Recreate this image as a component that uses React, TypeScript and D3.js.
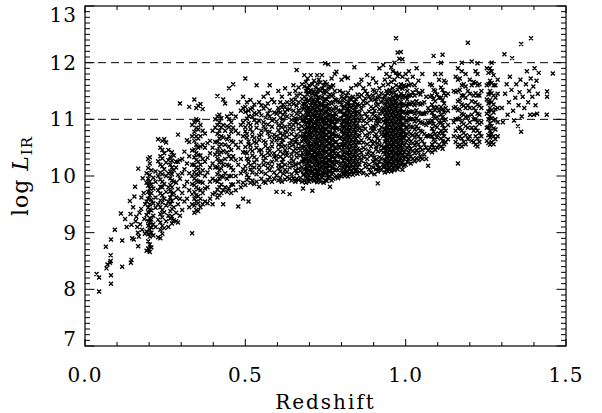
import * as d3 from 'd3';

// axis ranges and reference levels
const xDomain: [number, number] = [0, 1.5];
const yDomain: [number, number] = [7, 13];
const xMajorTicks = [0, 0.5, 1.0, 1.5];
const xTickLabels = ['0.0', '0.5', '1.0', '1.5'];
const yMajorTicks = [7, 8, 9, 10, 11, 12, 13];
const dashedLevels = [11, 12];

// sparse sources, [redshift, log L_IR]
const lowZPoints: [number, number][] = [
  [0.036, 8.27], [0.044, 8.21], [0.044, 7.96], [0.065, 8.75], [0.067, 8.37], [0.07, 8.44],
  [0.078, 8.47], [0.08, 8.6], [0.081, 8.25], [0.081, 8.1], [0.081, 8.88], [0.08, 8.5],
  [0.093, 9.05], [0.116, 8.4], [0.116, 8.86], [0.112, 9.34], [0.14, 9.56], [0.142, 9.33],
  [0.143, 8.47], [0.145, 8.52], [0.145, 9.14], [0.147, 8.9], [0.152, 8.88], [0.154, 9.64],
  [0.156, 9.81], [0.158, 9.2], [0.16, 9.28], [0.163, 9.1], [0.165, 9.0], [0.166, 8.76],
  [0.166, 10.13], [0.168, 8.93], [0.17, 9.35], [0.172, 9.15], [0.175, 9.42], [0.18, 9.96],
  [0.178, 9.05], [0.183, 9.7], [0.185, 9.24], [0.187, 8.98], [0.15, 9.45], [0.13, 9.1],
  [0.125, 9.24], [0.188, 9.5], [0.176, 9.62],
];

const highZPoints: [number, number][] = [
  [1.3, 11.2], [1.303, 10.95], [1.308, 12.15], [1.31, 11.45], [1.315, 11.62], [1.318, 11.08],
  [1.322, 11.3], [1.325, 11.75], [1.33, 11.52], [1.332, 12.08], [1.335, 11.15], [1.338, 10.98],
  [1.342, 11.38], [1.345, 11.62], [1.35, 10.88], [1.352, 11.25], [1.355, 11.48], [1.358, 11.7],
  [1.36, 10.78], [1.362, 11.05], [1.36, 12.33], [1.365, 11.4], [1.37, 11.2], [1.375, 11.62],
  [1.378, 11.85], [1.382, 11.3], [1.385, 11.5], [1.388, 11.08], [1.39, 11.72], [1.391, 12.43],
  [1.395, 11.4], [1.398, 11.58], [1.4, 11.08], [1.402, 11.9], [1.405, 11.25], [1.408, 11.68],
  [1.41, 11.1], [1.412, 11.45], [1.415, 11.82], [1.441, 11.49], [1.441, 11.4], [1.44, 11.08],
  [1.459, 11.81],
];

// redshift spikes, [redshift, log L_IR values]
const columnsA: [number, number[]][] = [
  [0.192, [8.68, 9.02, 9.31, 9.55, 9.88, 10.05]],
  [0.197, [8.72, 8.85, 8.97, 9.12, 9.2, 9.36, 9.44, 9.6, 9.72, 9.83, 9.95, 10.14, 10.3]],
  [0.202, [8.66, 8.79, 8.93, 9.05, 9.18, 9.26, 9.41, 9.5, 9.66, 9.78, 9.9, 10.02, 10.22, 10.33]],
  [0.207, [8.74, 9.0, 9.09, 9.23, 9.39, 9.58, 9.7, 9.85, 10.1]],
  [0.213, [8.95, 9.15, 9.3, 9.52, 9.78, 9.97]],
  [0.22, [9.1, 9.44, 9.62, 9.9, 10.08]],
  [0.228, [8.92, 9.23, 9.5, 9.75, 10.0, 10.26, 10.65]],
  [0.235, [8.9, 9.05, 9.18, 9.33, 9.45, 9.57, 9.69, 9.81, 9.94, 10.06, 10.2, 10.35, 10.5]],
  [0.241, [8.98, 9.12, 9.27, 9.4, 9.53, 9.66, 9.8, 9.9, 10.03, 10.17, 10.31, 10.46, 10.62]],
  [0.247, [9.08, 9.36, 9.6, 9.86, 10.12, 10.4, 10.65]],
  [0.253, [9.2, 9.48, 9.72, 10.0, 10.24, 10.59]],
  [0.26, [9.1, 9.3, 9.55, 9.8, 10.05, 10.28, 10.46]],
  [0.266, [9.25, 9.38, 9.5, 9.62, 9.73, 9.84, 9.96, 10.08, 10.2, 10.34]],
  [0.271, [9.16, 9.29, 9.42, 9.56, 9.68, 9.8, 9.92, 10.03, 10.15, 10.27, 10.42]],
  [0.277, [9.22, 9.45, 9.7, 9.9, 10.1, 10.36]],
  [0.284, [9.2, 9.35, 9.62, 9.88, 10.15, 10.25]],
  [0.29, [9.18, 9.5, 9.77, 10.02, 10.25, 10.73]],
  [0.296, [9.3, 9.6, 9.95, 10.28, 11.28]],
  [0.303, [9.4, 9.7, 10.05, 10.3]],
  [0.31, [9.55, 9.82, 10.12, 10.43]],
  [0.318, [9.6, 9.9, 10.22, 10.63]],
  [0.325, [9.45, 9.75, 10.05, 10.35, 10.6, 11.22]],
  [0.334, [8.99, 9.5, 9.68, 9.86, 10.0, 10.2, 10.45, 10.7, 10.9]],
  [0.341, [9.35, 9.48, 9.6, 9.72, 9.84, 9.95, 10.07, 10.2, 10.33, 10.47, 10.62, 10.78, 10.95, 11.35]],
  [0.347, [9.4, 9.55, 9.66, 9.8, 9.92, 10.03, 10.15, 10.28, 10.4, 10.55, 10.7, 10.85, 11.0, 11.2]],
  [0.353, [9.38, 9.52, 9.64, 9.77, 9.9, 10.02, 10.12, 10.25, 10.37, 10.5, 10.66, 10.82, 10.98, 11.24]],
  [0.36, [9.45, 9.6, 9.75, 9.9, 10.05, 10.2, 10.36, 10.52, 10.7, 10.9, 11.27]],
  [0.367, [9.5, 9.7, 9.88, 10.1, 10.3, 10.55, 10.8, 11.18]],
  [0.374, [9.55, 9.78, 10.0, 10.25, 10.5, 10.75]],
  [0.382, [9.52, 9.8, 10.06, 10.32, 10.58]],
  [0.39, [9.6, 9.9, 10.15, 10.4, 10.62]],
  [0.398, [9.5, 9.68, 9.95, 10.22, 10.5, 10.8]],
  [0.406, [9.7, 9.92, 10.15, 10.38, 10.6, 10.85, 11.0]],
  [0.413, [9.62, 9.76, 9.9, 10.03, 10.16, 10.3, 10.45, 10.6, 10.74, 10.9, 11.05, 11.41]],
  [0.419, [9.66, 9.8, 9.95, 10.1, 10.24, 10.38, 10.52, 10.66, 10.8, 10.95, 11.08]],
  [0.425, [9.7, 9.85, 10.0, 10.13, 10.27, 10.42, 10.56, 10.7, 10.86, 11.02]],
  [0.431, [9.5, 9.75, 9.98, 10.2, 10.44, 10.68, 10.9, 11.35]],
  [0.437, [9.8, 10.05, 10.3, 10.55, 10.8, 11.28]],
  [0.443, [9.72, 9.95, 10.2, 10.42, 10.65, 10.88, 11.05]],
  [0.449, [9.78, 10.0, 10.18, 10.35, 10.52, 10.7, 10.86, 11.0, 11.55]],
  [0.456, [9.7, 9.85, 10.0, 10.15, 10.3, 10.46, 10.62, 10.78, 10.95, 11.1]],
  [0.462, [9.85, 10.1, 10.35, 10.6, 10.85, 11.62]],
  [0.47, [9.75, 10.0, 10.28, 10.55, 10.8, 11.05]],
  [0.478, [9.46, 9.9, 10.2, 10.5, 10.75, 11.3]],
  [0.486, [9.8, 10.05, 10.3, 10.6, 10.9, 11.15]],
  [0.493, [9.6, 9.88, 10.12, 10.42, 10.7, 10.95, 11.2, 11.4]],
];

const columnsB: [number, number[]][] = [
  [0.5, [9.84, 10.09, 10.17, 10.42, 10.51, 10.79, 10.86, 11.13, 11.22, 11.72]],
  [0.505, [9.93, 10.02, 10.31, 10.4, 10.68, 10.74, 11.01, 11.3]],
  [0.51, [9.55, 9.97, 10.23, 10.29, 10.56, 10.61, 10.93, 11.06, 11.15]],
  [0.516, [9.88, 10.12, 10.19, 10.47, 10.54, 10.83, 10.9, 11.18, 11.34]],
  [0.522, [9.92, 10.06, 10.36, 10.44, 10.7, 10.77, 11.04, 11.2]],
  [0.528, [9.86, 10.15, 10.24, 10.33, 10.6, 10.67, 10.99, 11.11, 11.26]],
  [0.535, [9.9, 10.03, 10.29, 10.5, 10.58, 10.85, 10.94, 11.09, 11.6]],
  [0.543, [9.81, 10.11, 10.18, 10.45, 10.64, 10.71, 10.97, 11.14, 11.3]],
  [0.55, [9.95, 10.07, 10.38, 10.46, 10.73, 10.8, 11.07, 11.25]],
  [0.557, [9.9, 10.2, 10.27, 10.35, 10.62, 10.88, 10.95, 11.19, 11.4]],
  [0.563, [9.88, 10.04, 10.32, 10.53, 10.59, 10.82, 11.03, 11.23]],
  [0.57, [9.93, 10.14, 10.22, 10.41, 10.49, 10.76, 10.91, 11.1, 11.28, 11.46]],
  [0.576, [9.98, 10.1, 10.37, 10.44, 10.69, 10.78, 11.05, 11.16, 11.6]],
  [0.583, [9.9, 10.17, 10.25, 10.52, 10.6, 10.87, 10.98, 11.35]],
  [0.59, [9.95, 10.06, 10.34, 10.4, 10.67, 10.73, 11.0, 11.12, 11.3]],
  [0.597, [9.72, 10.01, 10.28, 10.35, 10.63, 10.7, 10.96, 11.1]],
  [0.603, [9.92, 10.13, 10.19, 10.47, 10.55, 10.81, 10.89, 11.15, 11.2, 11.5]],
  [0.609, [9.97, 10.08, 10.34, 10.43, 10.66, 10.75, 11.03, 11.12, 11.3]],
  [0.614, [9.9, 10.16, 10.24, 10.52, 10.58, 10.86, 10.93, 11.21, 11.4]],
  [0.618, [9.72, 10.04, 10.3, 10.39, 10.64, 10.72, 11.0, 11.08, 11.26]],
  [0.624, [9.94, 10.11, 10.2, 10.46, 10.53, 10.79, 10.87, 11.13, 11.22, 11.55]],
  [0.63, [9.98, 10.07, 10.36, 10.41, 10.69, 10.77, 11.05, 11.17, 11.3]],
  [0.638, [9.68, 9.95, 10.15, 10.23, 10.5, 10.57, 10.84, 10.91, 11.18, 11.26, 11.45]],
  [0.644, [9.92, 10.03, 10.31, 10.38, 10.63, 10.74, 10.99, 11.07, 11.34]],
  [0.65, [9.96, 10.18, 10.26, 10.44, 10.55, 10.82, 10.9, 11.15, 11.27, 11.6]],
  [0.656, [9.9, 10.1, 10.2, 10.48, 10.6, 10.68, 10.95, 11.02, 11.35, 11.5]],
  [0.66, [9.95, 10.05, 10.33, 10.4, 10.65, 10.73, 11.0, 11.1, 11.24, 11.42, 11.87]],
  [0.666, [9.93, 10.13, 10.22, 10.49, 10.57, 10.84, 10.92, 11.16, 11.3, 11.56]],
  [0.672, [9.97, 10.09, 10.36, 10.45, 10.7, 10.79, 11.04, 11.12, 11.45]],
  [0.677, [9.9, 10.16, 10.25, 10.52, 10.61, 10.88, 10.97, 11.2, 11.36, 11.62]],
  [0.68, [9.78, 10.02, 10.3, 10.38, 10.64, 10.71, 10.99, 11.07, 11.28]],
];

const columnsC: [number, number[]][] = [
  [0.684, [9.92, 10.03, 10.11, 10.24, 10.31, 10.45, 10.52, 10.66, 10.74, 10.83, 10.97, 11.05, 11.19, 11.27, 11.4, 11.58, 11.78]],
  [0.689, [9.88, 9.99, 10.08, 10.17, 10.29, 10.38, 10.49, 10.6, 10.69, 10.8, 10.91, 11.02, 11.12, 11.23, 11.36, 11.5, 11.66]],
  [0.694, [9.95, 10.06, 10.14, 10.22, 10.35, 10.43, 10.56, 10.63, 10.77, 10.86, 10.94, 11.08, 11.16, 11.3, 11.44, 11.55, 11.72]],
  [0.699, [9.9, 10.01, 10.1, 10.19, 10.27, 10.4, 10.5, 10.58, 10.71, 10.79, 10.9, 10.99, 11.1, 11.21, 11.33, 11.47, 11.6]],
  [0.704, [9.93, 10.05, 10.13, 10.26, 10.33, 10.46, 10.54, 10.65, 10.73, 10.84, 10.96, 11.04, 11.14, 11.25, 11.38, 11.52, 11.78]],
  [0.709, [9.74, 9.97, 10.07, 10.16, 10.24, 10.37, 10.47, 10.57, 10.68, 10.76, 10.88, 11.0, 11.09, 11.2, 11.31, 11.45, 11.62]],
  [0.714, [9.91, 10.02, 10.12, 10.2, 10.31, 10.42, 10.51, 10.61, 10.72, 10.82, 10.93, 11.03, 11.13, 11.24, 11.35, 11.49, 11.68]],
  [0.719, [9.96, 10.04, 10.15, 10.25, 10.34, 10.44, 10.55, 10.64, 10.75, 10.85, 10.95, 11.06, 11.17, 11.28, 11.42, 11.56]],
  [0.724, [9.89, 10.0, 10.09, 10.18, 10.28, 10.39, 10.48, 10.59, 10.7, 10.8, 10.9, 11.01, 11.11, 11.22, 11.34, 11.48, 11.63, 11.78]],
  [0.729, [9.94, 10.06, 10.14, 10.23, 10.36, 10.45, 10.53, 10.66, 10.74, 10.87, 10.97, 11.07, 11.18, 11.29, 11.4, 11.53, 11.7]],
  [0.734, [9.9, 10.03, 10.11, 10.21, 10.3, 10.41, 10.5, 10.62, 10.71, 10.81, 10.92, 11.03, 11.12, 11.25, 11.37, 11.5, 11.65]],
  [0.739, [9.97, 10.07, 10.17, 10.26, 10.35, 10.46, 10.56, 10.65, 10.76, 10.86, 10.96, 11.05, 11.15, 11.26, 11.39, 11.54, 11.78]],
  [0.744, [9.88, 10.01, 10.1, 10.2, 10.29, 10.4, 10.49, 10.6, 10.69, 10.79, 10.91, 11.0, 11.11, 11.21, 11.32, 11.46, 11.6]],
  [0.749, [9.93, 10.05, 10.15, 10.24, 10.33, 10.43, 10.53, 10.63, 10.73, 10.84, 10.94, 11.04, 11.14, 11.24, 11.36, 11.51, 11.66, 11.99]],
  [0.754, [9.91, 10.02, 10.12, 10.22, 10.32, 10.42, 10.52, 10.61, 10.72, 10.82, 10.93, 11.02, 11.13, 11.23, 11.35, 11.48, 11.62]],
  [0.759, [9.96, 10.08, 10.18, 10.27, 10.37, 10.47, 10.57, 10.67, 10.77, 10.87, 10.97, 11.07, 11.17, 11.27, 11.4, 11.55, 11.97]],
  [0.764, [9.81, 9.99, 10.09, 10.19, 10.28, 10.38, 10.48, 10.58, 10.68, 10.78, 10.89, 10.99, 11.09, 11.19, 11.3, 11.44, 11.58]],
  [0.769, [9.92, 10.04, 10.14, 10.23, 10.34, 10.44, 10.54, 10.64, 10.74, 10.85, 10.95, 11.05, 11.16, 11.28, 11.41, 11.57, 11.72]],
  [0.774, [9.95, 10.06, 10.16, 10.25, 10.36, 10.45, 10.56, 10.66, 10.75, 10.86, 10.96, 11.06, 11.18, 11.3, 11.43, 11.6]],
  [0.779, [9.98, 10.1, 10.2, 10.3, 10.4, 10.5, 10.6, 10.7, 10.8, 10.9, 11.0, 11.11, 11.22, 11.35, 11.5, 11.8]],
  [0.784, [10.0, 10.12, 10.24, 10.36, 10.48, 10.6, 10.72, 10.84, 10.96, 11.08, 11.2, 11.34, 11.84]],
  [0.789, [9.96, 10.1, 10.25, 10.4, 10.55, 10.7, 10.85, 11.0, 11.16, 11.32]],
  [0.794, [10.02, 10.18, 10.34, 10.5, 10.66, 10.82, 10.98, 11.14, 11.3, 11.5]],
];

const columnsD: [number, number[]][] = [
  [0.8, [9.99, 10.1, 10.22, 10.33, 10.45, 10.56, 10.68, 10.79, 10.9, 11.02, 11.14, 11.26, 11.4, 11.7]],
  [0.805, [10.04, 10.15, 10.27, 10.38, 10.5, 10.61, 10.73, 10.84, 10.96, 11.08, 11.2, 11.33, 11.47]],
  [0.81, [10.0, 10.11, 10.21, 10.32, 10.43, 10.54, 10.65, 10.76, 10.87, 10.98, 11.1, 11.22, 11.36, 11.75]],
  [0.815, [10.06, 10.17, 10.28, 10.39, 10.5, 10.6, 10.71, 10.82, 10.93, 11.04, 11.15, 11.28, 11.42]],
  [0.82, [9.99, 10.08, 10.19, 10.3, 10.41, 10.52, 10.63, 10.74, 10.85, 10.96, 11.07, 11.19, 11.31, 11.47, 11.73]],
  [0.825, [10.03, 10.14, 10.25, 10.36, 10.47, 10.58, 10.69, 10.8, 10.91, 11.02, 11.13, 11.25, 11.38]],
  [0.83, [10.08, 10.2, 10.31, 10.42, 10.53, 10.64, 10.75, 10.86, 10.97, 11.08, 11.2, 11.34, 11.55]],
  [0.835, [10.02, 10.13, 10.24, 10.35, 10.46, 10.57, 10.68, 10.79, 10.9, 11.01, 11.12, 11.24, 11.4]],
  [0.84, [10.05, 10.16, 10.27, 10.38, 10.49, 10.6, 10.71, 10.82, 10.93, 11.04, 11.16, 11.3, 11.92]],
  [0.845, [10.1, 10.22, 10.33, 10.44, 10.55, 10.66, 10.77, 10.88, 10.99, 11.1, 11.22, 11.36, 11.6]],
  [0.85, [10.04, 10.15, 10.26, 10.37, 10.48, 10.59, 10.7, 10.81, 10.92, 11.03, 11.14, 11.27, 11.44]],
  [0.856, [10.07, 10.2, 10.33, 10.46, 10.59, 10.72, 10.85, 10.98, 11.11, 11.25, 11.4, 11.62]],
  [0.862, [10.1, 10.27, 10.41, 10.63, 10.8, 11.05, 11.18, 11.43, 11.7]],
  [0.868, [10.05, 10.34, 10.5, 10.59, 10.88, 10.97, 11.25, 11.32, 11.55]],
  [0.874, [10.16, 10.22, 10.47, 10.72, 10.83, 11.1, 11.37, 11.5]],
  [0.88, [10.02, 10.3, 10.38, 10.56, 10.69, 10.93, 11.04, 11.29, 11.45, 11.78]],
  [0.886, [10.12, 10.2, 10.44, 10.66, 10.76, 11.01, 11.14, 11.4, 11.62]],
  [0.892, [10.06, 10.36, 10.52, 10.62, 10.85, 10.99, 11.22, 11.34]],
  [0.898, [10.15, 10.26, 10.4, 10.57, 10.79, 10.88, 11.09, 11.19, 11.42, 11.52, 11.72]],
  [0.903, [10.03, 10.22, 10.33, 10.6, 10.7, 10.83, 11.06, 11.15, 11.35, 11.5]],
  [0.908, [10.12, 10.29, 10.47, 10.51, 10.74, 10.9, 10.98, 11.24, 11.31, 11.47, 11.65]],
  [0.913, [9.87, 10.08, 10.2, 10.43, 10.58, 10.67, 10.92, 11.03, 11.26, 11.38]],
  [0.918, [10.14, 10.25, 10.33, 10.55, 10.62, 10.8, 10.96, 11.1, 11.18, 11.4, 11.55, 11.9]],
  [0.924, [10.1, 10.31, 10.45, 10.53, 10.73, 10.86, 11.0, 11.14, 11.3, 11.46]],
  [0.93, [10.16, 10.21, 10.42, 10.5, 10.7, 10.77, 10.97, 11.12, 11.2, 11.36, 11.6, 11.96]],
];

const columnsE: [number, number[]][] = [
  [0.935, [10.06, 10.17, 10.28, 10.39, 10.5, 10.61, 10.72, 10.83, 10.94, 11.05, 11.16, 11.28, 11.42, 11.7]],
  [0.94, [10.12, 10.23, 10.34, 10.45, 10.56, 10.67, 10.78, 10.89, 11.0, 11.11, 11.22, 11.35, 11.5, 11.8]],
  [0.945, [10.08, 10.19, 10.3, 10.41, 10.52, 10.63, 10.74, 10.85, 10.96, 11.07, 11.18, 11.3, 11.45, 11.62]],
  [0.95, [10.14, 10.25, 10.36, 10.47, 10.58, 10.69, 10.8, 10.91, 11.02, 11.13, 11.24, 11.37, 11.52, 11.75]],
  [0.955, [10.08, 10.2, 10.31, 10.42, 10.53, 10.64, 10.75, 10.86, 10.97, 11.08, 11.19, 11.31, 11.46, 11.66, 11.92]],
  [0.96, [10.15, 10.26, 10.37, 10.48, 10.59, 10.7, 10.81, 10.92, 11.03, 11.14, 11.26, 11.39, 11.55, 11.85]],
  [0.965, [10.1, 10.22, 10.33, 10.44, 10.55, 10.66, 10.77, 10.88, 10.99, 11.1, 11.21, 11.33, 11.48, 11.7, 12.0]],
  [0.97, [10.18, 10.29, 10.4, 10.51, 10.62, 10.73, 10.84, 10.95, 11.06, 11.17, 11.29, 11.42, 11.6, 11.82, 12.43]],
  [0.975, [10.12, 10.23, 10.34, 10.45, 10.56, 10.67, 10.78, 10.89, 11.0, 11.11, 11.23, 11.36, 11.52, 11.76, 12.18]],
  [0.98, [10.16, 10.27, 10.38, 10.49, 10.6, 10.71, 10.82, 10.93, 11.04, 11.15, 11.27, 11.4, 11.56, 11.8, 12.07]],
  [0.985, [10.2, 10.31, 10.42, 10.53, 10.64, 10.75, 10.86, 10.97, 11.08, 11.19, 11.31, 11.45, 11.62, 12.19]],
  [0.99, [10.11, 10.24, 10.36, 10.47, 10.58, 10.69, 10.8, 10.91, 11.02, 11.13, 11.25, 11.38, 11.54, 11.75, 12.06]],
  [0.995, [10.18, 10.3, 10.42, 10.54, 10.66, 10.78, 10.9, 11.02, 11.14, 11.27, 11.42, 11.6]],
  [1.0, [10.2, 10.33, 10.46, 10.59, 10.72, 10.85, 10.98, 11.11, 11.25, 11.4, 11.58, 11.8]],
  [1.005, [10.25, 10.38, 10.5, 10.62, 10.74, 10.86, 10.98, 11.1, 11.22, 11.35, 11.5, 11.7]],
  [1.01, [10.3, 10.42, 10.54, 10.66, 10.78, 10.9, 11.02, 11.14, 11.27, 11.42, 11.6, 11.85]],
  [1.016, [10.22, 10.35, 10.48, 10.61, 10.74, 10.87, 11.0, 11.13, 11.27, 11.42, 11.62]],
  [1.022, [10.3, 10.44, 10.58, 10.72, 10.86, 11.0, 11.14, 11.3, 11.48, 11.75]],
  [1.028, [10.26, 10.4, 10.54, 10.68, 10.82, 10.96, 11.1, 11.25, 11.42, 11.6]],
  [1.034, [10.32, 10.46, 10.6, 10.74, 10.88, 11.02, 11.16, 11.32, 11.52, 11.9]],
  [1.04, [10.28, 10.42, 10.56, 10.7, 10.84, 10.98, 11.12, 11.28, 11.46, 11.68]],
  [1.046, [10.35, 10.5, 10.65, 10.8, 10.95, 11.1, 11.26, 11.44]],
  [1.052, [10.3, 10.46, 10.62, 10.78, 10.94, 11.1, 11.28, 11.5, 11.8]],
  [1.058, [10.38, 10.56, 10.74, 10.92, 11.1, 11.3]],
  [1.064, [10.3, 10.5, 10.7, 10.9, 11.12, 11.4]],
  [1.07, [10.18, 10.45, 10.7, 10.95, 11.2]],
];

const columnsF: [number, number[]][] = [
  [1.076, [10.5, 10.72, 10.94, 11.15, 11.4, 11.62]],
  [1.082, [10.42, 10.56, 10.7, 10.84, 10.98, 11.12, 11.26, 11.42, 11.6]],
  [1.087, [10.5, 10.64, 10.78, 10.92, 11.06, 11.2, 11.36, 11.52, 12.12]],
  [1.092, [10.46, 10.6, 10.74, 10.88, 11.02, 11.16, 11.32, 11.5, 11.8]],
  [1.098, [10.5, 10.68, 10.86, 11.04, 11.22, 11.44]],
  [1.104, [10.55, 10.75, 10.95, 11.15, 11.38, 11.7]],
  [1.11, [10.52, 10.66, 10.8, 10.94, 11.08, 11.22, 11.38, 11.56, 11.8, 12.0]],
  [1.115, [10.48, 10.62, 10.76, 10.9, 11.04, 11.18, 11.34, 11.52, 12.14]],
  [1.12, [10.56, 10.7, 10.84, 10.98, 11.12, 11.28, 11.46, 11.68]],
  [1.125, [10.6, 10.8, 11.0, 11.2, 11.42, 11.65]],
  [1.132, [10.65, 10.9, 11.15, 11.45]],
  [1.15, [10.7, 10.95, 11.2, 11.5]],
  [1.156, [10.6, 10.8, 11.0, 11.22, 11.48, 11.75]],
  [1.163, [10.22, 10.52, 10.68, 10.84, 11.0, 11.16, 11.32, 11.5, 11.7, 11.9]],
  [1.169, [10.55, 10.7, 10.86, 11.02, 11.18, 11.34, 11.52, 11.72]],
  [1.175, [10.52, 10.66, 10.8, 10.95, 11.1, 11.26, 11.42, 11.6, 11.85, 12.0]],
  [1.181, [10.6, 10.76, 10.92, 11.08, 11.24, 11.42, 11.62]],
  [1.187, [10.56, 10.72, 10.88, 11.04, 11.2, 11.38, 11.58, 11.8]],
  [1.194, [10.65, 10.85, 11.05, 11.25, 11.5, 12.35]],
  [1.2, [10.7, 10.95, 11.2, 11.45, 11.7]],
  [1.206, [10.62, 10.85, 11.08, 11.32, 11.6, 12.02]],
  [1.212, [10.6, 10.8, 11.0, 11.2, 11.42, 11.66]],
  [1.218, [10.55, 10.7, 10.85, 11.0, 11.15, 11.3, 11.46, 11.64, 11.85]],
  [1.224, [10.52, 10.66, 10.8, 10.95, 11.1, 11.26, 11.42, 11.6, 11.8, 11.99]],
  [1.23, [10.6, 10.76, 10.92, 11.08, 11.24, 11.42, 11.62]],
  [1.236, [10.7, 10.95, 11.2, 11.5]],
  [1.253, [10.62, 10.85, 11.1, 11.35, 11.6, 11.9]],
  [1.258, [10.58, 10.72, 10.86, 11.0, 11.14, 11.28, 11.44, 11.62, 11.82]],
  [1.263, [10.55, 10.68, 10.8, 10.93, 11.06, 11.2, 11.34, 11.5, 11.68, 11.9]],
  [1.268, [10.6, 10.74, 10.88, 11.02, 11.16, 11.3, 11.46, 11.64, 11.85, 12.0]],
  [1.274, [10.56, 10.7, 10.84, 10.98, 11.12, 11.26, 11.42, 11.6, 11.78]],
  [1.28, [10.65, 10.82, 11.0, 11.18, 11.38, 11.6]],
  [1.287, [10.7, 10.95, 11.2, 11.45, 11.7]],
];

const W = 602;
const H = 413;
const margin = { left: 85, right: 36, top: 6, bottom: 67 };
const font = '"DejaVu Serif", serif';

export default function App() {
  const x = d3.scaleLinear().domain(xDomain).range([margin.left, W - margin.right]);
  const y = d3.scaleLinear().domain(yDomain).range([H - margin.bottom, margin.top]);
  const [x0, x1] = x.range();
  const [y0, y1] = y.range();

  const points: [number, number][] = [...lowZPoints, ...highZPoints];
  for (const cols of [columnsA, columnsB, columnsC, columnsD, columnsE, columnsF]) {
    for (const [z, ls] of cols) for (const l of ls) points.push([z, l]);
  }

  const s = 2;
  const cross = d3.path();
  for (const [z, l] of points) {
    const px = x(z);
    const py = y(l);
    cross.moveTo(px - s, py - s);
    cross.lineTo(px + s, py + s);
    cross.moveTo(px - s, py + s);
    cross.lineTo(px + s, py - s);
  }

  const xMinor = d3.range(0, 1.5001, 0.1);
  const yMinor = d3.range(7, 13.0001, 0.1);
  // end labels sit inside the frame, as in the original
  const yLabelPos = (t: number) => Math.min(Math.max(y(t), y1 + 9), y0 - 7) + 7;

  return (
    <svg width={W} height={H} style={{ position: 'absolute', left: 0, top: 0, background: '#fff' }}>
      <rect x={0} y={0} width={W} height={H} fill="#fff" />
      <path d={cross.toString()} stroke="#000" strokeWidth={1.35} fill="none" />
      {dashedLevels.map((v) => (
        <line key={v} x1={x0} x2={x1} y1={y(v)} y2={y(v)} stroke="#000" strokeWidth={1} strokeDasharray="8,5" />
      ))}
      <rect x={x0} y={y1} width={x1 - x0} height={y0 - y1} fill="none" stroke="#000" strokeWidth={1.2} />
      {xMinor.map((t, i) => {
        const major = xMajorTicks.some((m) => Math.abs(m - t) < 1e-6);
        const len = major ? 7 : 4;
        return (
          <g key={'xt' + i} stroke="#000" strokeWidth={1}>
            <line x1={x(t)} x2={x(t)} y1={y0} y2={y0 - len} />
            <line x1={x(t)} x2={x(t)} y1={y1} y2={y1 + len} />
          </g>
        );
      })}
      {yMinor.map((t, i) => {
        const major = yMajorTicks.some((m) => Math.abs(m - t) < 1e-6);
        const len = major ? 9.5 : 5;
        return (
          <g key={'yt' + i} stroke="#000" strokeWidth={1}>
            <line x1={x0} x2={x0 + len} y1={y(t)} y2={y(t)} />
            <line x1={x1} x2={x1 - len} y1={y(t)} y2={y(t)} />
          </g>
        );
      })}
      {xMajorTicks.map((t, i) => (
        <text key={'xl' + t} x={x(t)} y={382} textAnchor="middle" fontFamily={font} fontSize={20} letterSpacing={1} fill="#000">
          {xTickLabels[i]}
        </text>
      ))}
      {yMajorTicks.map((t) => (
        <text key={'yl' + t} x={77} y={yLabelPos(t)} textAnchor="end" fontFamily={font} fontSize={20} letterSpacing={1} fill="#000">
          {t}
        </text>
      ))}
      <text x={(x0 + x1) / 2} y={409} textAnchor="middle" fontFamily={font} fontSize={20} letterSpacing={2} fill="#000">
        Redshift
      </text>
      <text
        transform={`translate(28,${(y0 + y1) / 2}) rotate(-90)`}
        textAnchor="middle"
        fontFamily={font}
        fontSize={22}
        letterSpacing={1}
        fill="#000"
      >
        log{' '}
        <tspan fontStyle="italic">L</tspan>
        <tspan fontSize={15} dy={4}>IR</tspan>
      </text>
    </svg>
  );
}
